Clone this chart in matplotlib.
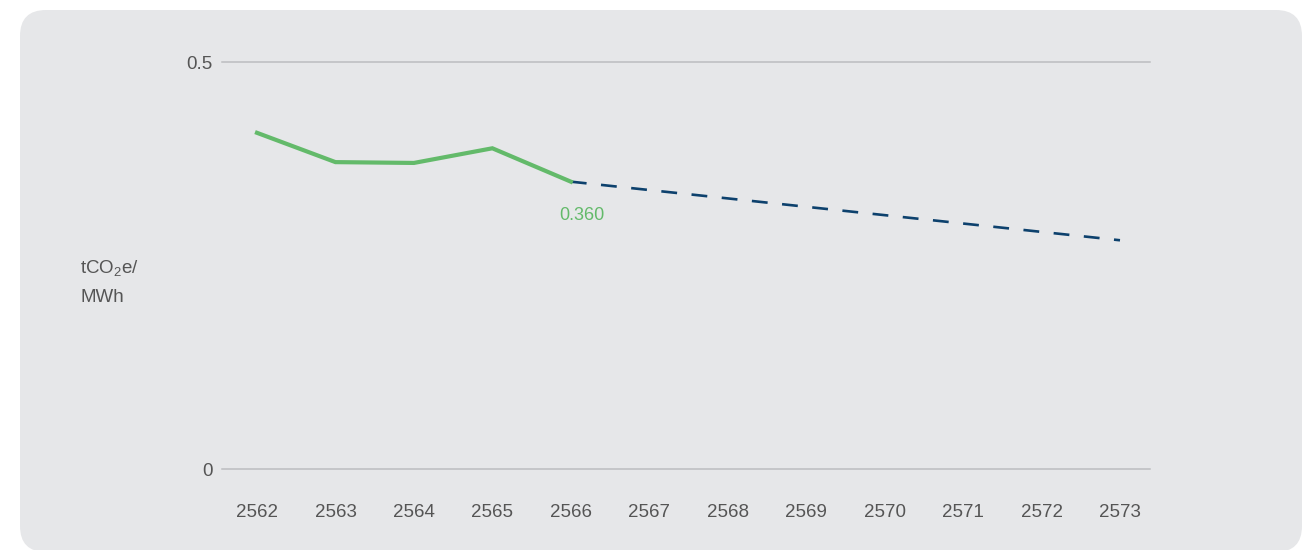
import matplotlib
matplotlib.use("Agg")
import matplotlib.pyplot as plt
from matplotlib.patches import FancyBboxPatch
from matplotlib.transforms import IdentityTransform

years = list(range(2562, 2574))
year_labels = [str(y) for y in years]
actual_years = [2562, 2563, 2564, 2565, 2566]
actual_values = [0.413, 0.377, 0.376, 0.394, 0.353]
target_years = [2566, 2573]
target_values = [0.353, 0.281]
y_ticks = [0, 0.5]
y_tick_labels = ["0", "0.5"]
last_label = "0.360"

plt.rcParams['font.family'] = ['Liberation Sans', 'DejaVu Sans']
plt.rcParams['mathtext.fontset'] = 'custom'
plt.rcParams['mathtext.rm'] = 'Liberation Sans'
plt.rcParams['mathtext.it'] = 'Liberation Sans'

W, H = 1303, 550
fig = plt.figure(figsize=(W / 100, H / 100), dpi=100)
fig.patch.set_facecolor('white')

# rounded background panel (pixel coordinates, origin bottom-left)
bg = FancyBboxPatch((20, -2), 1282, 542,
                    boxstyle="round,pad=0,rounding_size=26",
                    transform=IdentityTransform(), facecolor='#e6e7e9',
                    edgecolor='none', zorder=-10)
fig.patches.append(bg)

ax_left, ax_right = 222 / W, 1150 / W
ax_bottom, ax_top = (H - 469) / H, (H - 62) / H
ax = fig.add_axes([ax_left, ax_bottom, ax_right - ax_left, ax_top - ax_bottom])
ax.set_facecolor('none')
ax.set_zorder(1)

step = (1120 - 257) / 11
ax.set_xlim(2562 - (257 - 222) / step, 2573 + (1150 - 1120) / step)
ax.set_ylim(0, 0.5)

for yv in y_ticks:
    ax.axhline(yv, color='#bcbdc0', lw=1.1, zorder=1, clip_on=False)

ax.plot(target_years, target_values, color='#0d416d', lw=1.9,
        dashes=(6, 5.5), dash_capstyle='butt', zorder=2)
ax.plot(actual_years, actual_values, color='#63ba6a', lw=3.0,
        solid_capstyle='projecting', solid_joinstyle='miter', zorder=3)

ax.text(2566.14, 0.311, last_label, color='#63ba6a', fontsize=13,
        ha='center', va='center', fontweight='normal')

for s in ax.spines.values():
    s.set_visible(False)
ax.set_xticks(years)
ax.set_xticklabels(year_labels)
ax.set_yticks(y_ticks)
ax.set_yticklabels(y_tick_labels)
ax.tick_params(axis='both', length=0, colors='#555555', labelsize=13.5)
ax.tick_params(axis='x', pad=25)
ax.tick_params(axis='y', pad=7)

fig.text(80 / W, 1 - 268 / H, r"tCO$_{2}$e/", fontsize=13.5, color='#555555',
         ha='left', va='center', zorder=5)
fig.text(80 / W, 1 - 297 / H, "MWh", fontsize=13.5, color='#555555',
         ha='left', va='center', zorder=5)

fig.savefig("out.png", dpi=100, facecolor='white')
